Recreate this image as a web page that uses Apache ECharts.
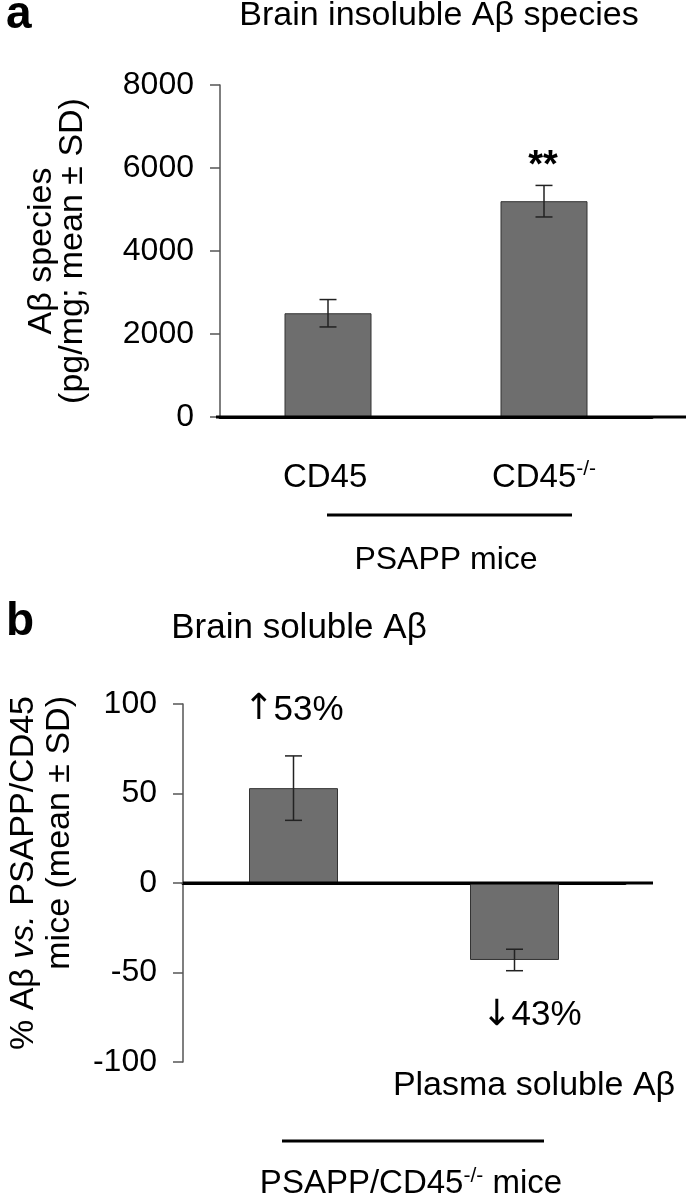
<!DOCTYPE html>
<html>
<head>
<meta charset="utf-8">
<script src="https://cdn.jsdelivr.net/npm/echarts@6/dist/echarts.min.js"></script>
<style>
  html, body { margin: 0; padding: 0; background: #fff; }
  #chart { width: 690px; height: 1200px; }
</style>
</head>
<body>
<div id="chart"></div>
<script>
// panel a: brain insoluble Aβ species (pg/mg)
const catA = ['CD45', 'CD45-/-'];
const meanA = [2500, 5200];
const sdA = [330, 380];
const sigA = ['', '**'];
const axisA = { min: 0, max: 8000, step: 2000 };

// panel b: % Aβ vs. PSAPP/CD45 mice
const catB = ['Brain soluble Aβ', 'Plasma soluble Aβ'];
const meanB = [53, -43];
const sdB = [18, 6];
const noteB = ['↑53%', '↓43%'];
const axisB = { min: -100, max: 100, step: 50 };

const FONT = '"Liberation Sans", Arial, Helvetica, sans-serif';
const ARROW = '"DejaVu Sans", sans-serif';
const INK = '#000';
const BAR = '#6e6e6e';
const AXIS = '#555';

// grid layout (px)
const gA = { left: 220, top: 85, width: 432, height: 332 };
const gB = { left: 183, top: 704, width: 442, height: 358 };

const chart = echarts.init(document.getElementById('chart'));

function valueAxis(idx, ax) {
  return {
    gridIndex: idx, type: 'value',
    min: ax.min, max: ax.max, interval: ax.step,
    axisLine: { show: true, onZero: false, lineStyle: { color: AXIS, width: 1.5 } },
    axisTick: { show: true, length: 10, lineStyle: { color: AXIS, width: 1.5 } },
    splitLine: { show: false },
    axisLabel: { fontSize: 32, fontFamily: FONT, color: INK, margin: 26, formatter: v => String(v) }
  };
}

// error bars + text notes drawn from the data
function errorSeries(idx, means, sds, notes, font, offs) {
  return {
    type: 'custom', xAxisIndex: idx, yAxisIndex: idx, z: 5,
    data: means.map((m, i) => [i, m, sds[i]]),
    renderItem(params, api) {
      const i = api.value(0), m = api.value(1), s = api.value(2);
      const hi = api.coord([i, m + s]);
      const lo = api.coord([i, m - s]);
      const cap = 8.5;
      const st = { stroke: '#222', lineWidth: 1.5 };
      const kids = [
        { type: 'line', shape: { x1: hi[0], y1: hi[1], x2: lo[0], y2: lo[1] }, style: st },
        { type: 'line', shape: { x1: hi[0] - cap, y1: hi[1], x2: hi[0] + cap, y2: hi[1] }, style: st },
        { type: 'line', shape: { x1: lo[0] - cap, y1: lo[1], x2: lo[0] + cap, y2: lo[1] }, style: st }
      ];
      const note = notes[params.dataIndex];
      if (note) {
        const end = m >= 0 ? hi : lo;
        const o = offs[params.dataIndex];
        const arrow = /^[↑↓]/.test(note);
        kids.push({
          type: 'text', x: end[0] + o[0], y: end[1] + o[1],
          style: {
            text: arrow ? '{arr|' + note[0] + '}' + note.slice(1) : note,
            font: font, fill: INK, align: 'center', verticalAlign: 'middle',
            textAlign: 'center', textVerticalAlign: 'middle',
            rich: { arr: { font: '36px ' + ARROW, fill: INK } }
          }
        });
      }
      return { type: 'group', children: kids };
    }
  };
}

function barSeries(idx, means, w) {
  return {
    type: 'bar', xAxisIndex: idx, yAxisIndex: idx, barWidth: w,
    data: means,
    itemStyle: { color: BAR, borderColor: '#333', borderWidth: 1 },
    silent: true
  };
}

// "CD45-/-" -> CD45 with superscript; every label gets the same token layout
const supLabel = v => v.indexOf('-/-') > 0
  ? '{n|' + v.replace('-/-', '') + '}{sup|-/-}'
  : '{n|' + v + '}{sup| }';

chart.setOption({
  animation: false,
  backgroundColor: '#fff',
  grid: [
    Object.assign({ containLabel: false }, gA),
    Object.assign({ containLabel: false }, gB)
  ],
  xAxis: [
    {
      gridIndex: 0, type: 'category', data: catA,
      axisLine: { lineStyle: { color: INK, width: 3 } },
      axisTick: { show: false },
      axisLabel: {
        interval: 0, hideOverlap: false,
        margin: 42, fontSize: 33, fontFamily: FONT, color: INK,
        formatter: supLabel,
        rich: {
          n: { fontSize: 33, fontFamily: FONT, color: INK },
          sup: { fontSize: 21, fontFamily: FONT, color: INK, padding: [0, 0, 16, 0] }
        }
      }
    },
    {
      gridIndex: 1, type: 'category', data: catB,
      axisLine: { onZero: true, lineStyle: { color: INK, width: 3 } },
      axisTick: { show: false },
      axisLabel: { show: false }
    }
  ],
  yAxis: [
    Object.assign(valueAxis(0, axisA), {
      name: 'Aβ species\n(pg/mg; mean ± SD)',
      nameLocation: 'middle', nameRotate: 90, nameGap: 132,
      nameTextStyle: { fontSize: 34, fontFamily: FONT, color: INK, lineHeight: 31 }
    }),
    valueAxis(1, axisB)
  ],
  series: [
    barSeries(0, meanA, 87),
    errorSeries(0, meanA, sdA, sigA, 'bold 38px ' + FONT, [[-1, -19], [-1, -19]]),
    barSeries(1, meanB, 89),
    errorSeries(1, meanB, sdB, noteB, '35px ' + FONT, [[0, -46], [17, 45]])
  ]
});

// decorations: titles, panel letters, group lines, full zero lines
const zeroA = chart.convertToPixel({ yAxisIndex: 0 }, 0);
const zeroB = chart.convertToPixel({ yAxisIndex: 1 }, 0);
const txt = (x, y, text, font, extra) => ({
  type: 'text', x: x, y: y,
  style: Object.assign({ text: text, font: font, fill: INK, align: 'center', verticalAlign: 'middle',
                         textAlign: 'center', textVerticalAlign: 'middle' }, (extra || {}))
});
const line = (x1, y1, x2, y2, w) => ({
  type: 'line', z: 10, shape: { x1: x1, y1: y1, x2: x2, y2: y2 }, style: { stroke: INK, lineWidth: w }
});
const f = (s, b) => (b ? 'bold ' : '') + s + 'px ' + FONT;

chart.setOption({
  graphic: { elements: [
    txt(6, 15, 'a', f(46, true), { align: 'left', textAlign: 'left' }),
    txt(439, 16, 'Brain insoluble Aβ species', f(34)),
    line(gA.left - 4, zeroA, gA.left + gA.width + 34, zeroA, 3),
    line(327, 515, 572, 515, 3),
    txt(446, 560, 'PSAPP mice', f(32)),

    txt(6, 622, 'b', f(46, true), { align: 'left', textAlign: 'left' }),
    txt(299, 628, catB[0], f(35)),
    txt(534, 1086, catB[1], f(34)),
    line(gB.left, zeroB, gB.left + gB.width + 28, zeroB, 3),
    line(282, 1141, 544, 1141, 3),
    {
      type: 'text', x: 411, y: 1184,
      style: {
        text: 'PSAPP/CD45{sup|-/-} mice', font: f(33), fill: INK,
        align: 'center', verticalAlign: 'middle', textAlign: 'center', textVerticalAlign: 'middle',
        rich: { sup: { font: f(21), fill: INK, padding: [0, 0, 16, 0] } }
      }
    },
    {
      type: 'text', x: 42, y: 696, rotation: Math.PI / 2,
      style: {
        text: '% Aβ {i|vs.} PSAPP/CD45\nmice (mean ± SD)', font: f(34), fill: INK,
        align: 'right', verticalAlign: 'middle', textAlign: 'right', textVerticalAlign: 'middle',
        lineHeight: 36,
        rich: { i: { font: 'italic 34px ' + FONT, fill: INK } }
      }
    }
  ] }
});
</script>
</body>
</html>
